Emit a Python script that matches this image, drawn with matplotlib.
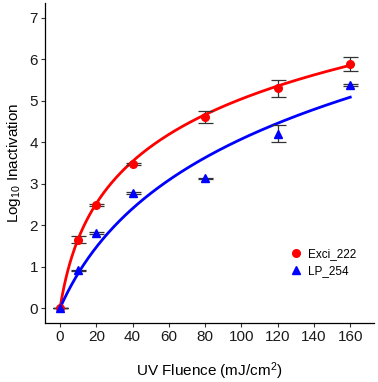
import numpy as np
import matplotlib
matplotlib.use("Agg")
import matplotlib.pyplot as plt

plt.rcParams['font.family'] = ['Liberation Sans', 'DejaVu Sans']
plt.rcParams['mathtext.default'] = 'regular'

# measured points
fluence = [0, 10, 20, 40, 80, 120, 160]
exci_mean = [0.0, 1.65, 2.49, 3.48, 4.61, 5.30, 5.90]
exci_err = [0.0, 0.08, 0.03, 0.03, 0.15, 0.20, 0.17]
lp_mean = [0.0, 0.91, 1.81, 2.78, 3.13, 4.21, 5.39]
lp_err = [0.0, 0.02, 0.02, 0.03, 0.02, 0.20, 0.02]

# fitted model y = a * ln(1 + b*x)
exci_fit = (1.82, 0.15)
lp_fit = (2.60, 0.038)

fig = plt.figure(figsize=(3.78, 3.82), dpi=100)
ax = fig.add_axes([0.119, 0.1545, 0.870, 0.8375])

xs = np.linspace(0, 160, 300)
ax.plot(xs, exci_fit[0] * np.log(1 + exci_fit[1] * xs), color='#FF0000', lw=2.0, zorder=2)
ax.plot(xs, lp_fit[0] * np.log(1 + lp_fit[1] * xs), color='#0000FF', lw=2.0, zorder=2)

ax.errorbar(fluence, exci_mean, yerr=exci_err, fmt='none', ecolor='#333333',
            elinewidth=0.9, capsize=5.4, capthick=0.9, zorder=3)
ax.errorbar(fluence, lp_mean, yerr=lp_err, fmt='none', ecolor='#333333',
            elinewidth=0.9, capsize=5.4, capthick=0.9, zorder=3)

ax.plot(fluence, exci_mean, 'o', color='#FF0000', ms=5.5, ls='none', label='Exci_222', zorder=4)
ax.plot(fluence, lp_mean, '^', color='#0000FF', ms=6, ls='none', label='LP_254', zorder=4)

ax.set_xlim(-8.3, 173)
ax.set_ylim(-0.36, 7.36)
ax.set_xticks(range(0, 161, 20))
ax.set_yticks(range(0, 8))

for side in ['top', 'right']:
    ax.spines[side].set_visible(False)
for side in ['left', 'bottom']:
    ax.spines[side].set_linewidth(0.9)
ax.tick_params(axis='both', length=3, width=0.8, color='#333333', labelsize=11,
               labelcolor='#1a1a1a', pad=2)

ax.set_xlabel('UV Fluence (mJ/cm$^2$)', fontsize=11, labelpad=12)
ax.set_ylabel('Log$_{10}$ Inactivation', fontsize=11, labelpad=5)

ax.legend(loc='upper left', bbox_to_anchor=(0.722, 0.248), frameon=False, fontsize=8.5,
          handletextpad=0.3, borderaxespad=0, labelspacing=0.4, handlelength=1.5)

fig.savefig('out.png', dpi=100)
